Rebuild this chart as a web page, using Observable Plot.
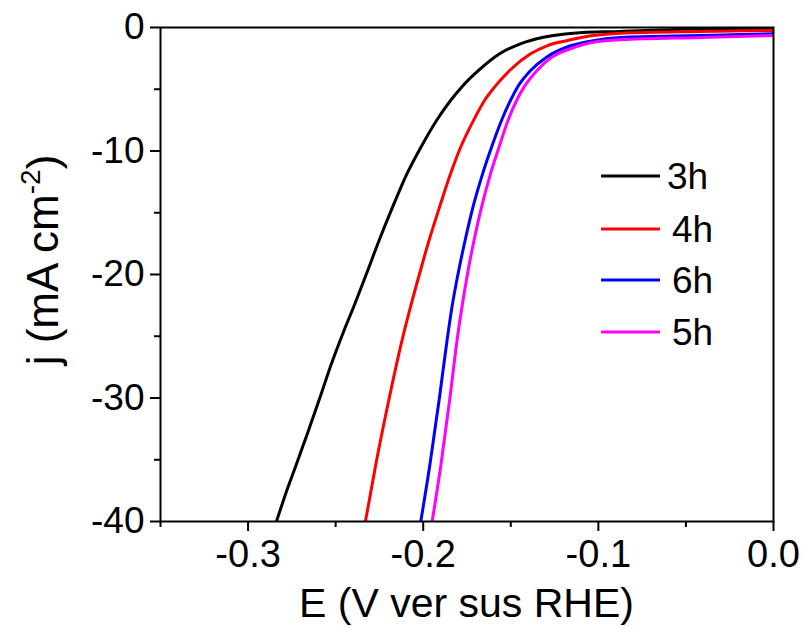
<!DOCTYPE html>
<html><head><meta charset="utf-8">
<script src="https://cdn.jsdelivr.net/npm/d3@7"></script>
<script src="https://cdn.jsdelivr.net/npm/@observablehq/plot@0.6"></script>
<style>
body{margin:0;background:#fff;}
#wrap{position:relative;width:806px;height:628px;font-family:"Liberation Sans",Arial,sans-serif;}
#legend{position:absolute;left:0;top:0;pointer-events:none;}
</style></head><body><div id="wrap"></div>
<script>
// ---- data ----
const seriesNames = ["3h", "4h", "6h", "5h"];
const seriesColors = ["#000000", "#ff0000", "#0000ff", "#ff00ff"];

const E_3h = [-0.2838, -0.2792, -0.2723, -0.2655, -0.2589, -0.2524, -0.2452, -0.2398, -0.2324, -0.2252, -0.2175, -0.2093, -0.2018, -0.1924, -0.1844, -0.1781, -0.1684, -0.1564, -0.1445, -0.1313, -0.1142, -0.0874, -0.050, 0.000];
const j_3h = [-40.0, -38.03, -35.33, -32.63, -29.94, -27.23, -24.53, -22.65, -19.94, -17.25, -14.55, -11.85, -9.82, -7.53, -5.91, -4.83, -3.48, -2.13, -1.32, -0.79, -0.46, -0.32, -0.15, -0.05];

const E_4h = [-0.2330, -0.2270, -0.2193, -0.2121, -0.2073, -0.2021, -0.1967, -0.1907, -0.1844, -0.1790, -0.1713, -0.1650, -0.1593, -0.1507, -0.1387, -0.1290, -0.1176, -0.1028, -0.0874, -0.0417, 0.000];
const j_4h = [-40.0, -35.33, -29.94, -25.34, -22.65, -19.94, -17.25, -14.55, -11.85, -9.82, -7.53, -5.91, -4.83, -3.48, -2.13, -1.46, -1.05, -0.65, -0.46, -0.32, -0.24];

const E_6h = [-0.2014, -0.1961, -0.1907, -0.1864, -0.1836, -0.1801, -0.1761, -0.1716, -0.1661, -0.1613, -0.1553, -0.1502, -0.1462, -0.1387, -0.1296, -0.1182, -0.1045, -0.0874, -0.0417, 0.000];
const j_6h = [-40.0, -35.33, -29.94, -25.34, -22.65, -19.94, -17.25, -14.55, -11.85, -9.82, -7.53, -5.91, -4.83, -3.48, -2.40, -1.60, -1.11, -0.81, -0.65, -0.51];

const E_5h = [-0.1949, -0.1898, -0.1847, -0.1807, -0.1779, -0.1747, -0.1710, -0.1667, -0.1616, -0.1570, -0.1516, -0.1467, -0.1425, -0.1350, -0.1265, -0.1159, -0.1028, -0.0874, -0.0417, 0.000];
const j_5h = [-40.0, -35.33, -29.94, -25.34, -22.65, -19.94, -17.25, -14.55, -11.85, -9.82, -7.53, -5.91, -4.83, -3.48, -2.40, -1.72, -1.19, -1.00, -0.81, -0.65];

const xMajorTicks = [-0.3, -0.2, -0.1, 0.0];
const xTickLabels = ["-0.3", "-0.2", "-0.1", "0.0"];
const xMinorTicks = [-0.35, -0.25, -0.15, -0.05];
const yMajorTicks = [0, -10, -20, -30, -40];
const yTickLabels = ["0", "-10", "-20", "-30", "-40"];
const yMinorTicks = [-5, -15, -25, -35];
const xTitle = "E (V ver sus RHE)";
const yTitleMain = "j (mA cm";
const yTitleSup = "-2";
const yTitleEnd = ")";

// ---- build table ----
const seriesE = [E_3h, E_4h, E_6h, E_5h];
const seriesJ = [j_3h, j_4h, j_6h, j_5h];
const rows = [];
seriesNames.forEach((name, k) => {
  seriesE[k].forEach((e, i) => rows.push({series: name, E: e, j: seriesJ[k][i]}));
});

const FONT = '"Liberation Sans", Arial, sans-serif';
const plot = Plot.plot({
  width: 806, height: 628,
  marginLeft: 160, marginRight: 33, marginTop: 27, marginBottom: 107,
  style: {fontFamily: FONT, background: "#fff", color: "#000"},
  x: {domain: [-0.35, 0], label: null},
  y: {domain: [-40, 0], label: null},
  color: {domain: seriesNames, range: seriesColors},
  marks: [
    Plot.line(rows, {x: "E", y: "j", z: "series", stroke: "series", strokeWidth: 3, curve: "monotone-x", clip: true}),
    Plot.axisX({ticks: xMajorTicks, tickSize: 10, tickPadding: 9, strokeWidth: 2, fontSize: 38,
      tickFormat: d => xTickLabels[xMajorTicks.findIndex(t => Math.abs(t - d) < 1e-9)], label: null}),
    Plot.axisX({ticks: xMinorTicks, tickSize: 6, strokeWidth: 2, text: null, label: null}),
    Plot.axisY({ticks: yMajorTicks, tickSize: 10, tickPadding: 6, strokeWidth: 2, fontSize: 37,
      tickFormat: d => yTickLabels[yMajorTicks.indexOf(d)], label: null}),
    Plot.axisY({ticks: yMinorTicks, tickSize: 6, strokeWidth: 2, text: null, label: null}),
    Plot.frame({stroke: "#000", strokeWidth: 2})
  ]
});

const wrap = document.getElementById("wrap");
wrap.appendChild(plot);

// axis titles
const xs = plot.scale("x"), ys = plot.scale("y");
const svg = d3.select(plot);
const cx = (xs.range[0] + xs.range[1]) / 2;
const cy = (ys.range[0] + ys.range[1]) / 2;
svg.append("text")
  .attr("x", cx).attr("y", 617)
  .attr("text-anchor", "middle")
  .attr("font-size", 41).attr("font-family", FONT).attr("fill", "#000")
  .text(xTitle);
const yt = svg.append("text")
  .attr("transform", `translate(58,${cy - 14}) rotate(-90)`)
  .attr("text-anchor", "middle")
  .attr("font-size", 44).attr("font-family", FONT).attr("fill", "#000");
yt.append("tspan").text(yTitleMain);
yt.append("tspan").attr("font-size", 28).attr("dy", -18).text(yTitleSup);
yt.append("tspan").attr("dy", 18).text(yTitleEnd);

// legend overlay
const leg = d3.select(wrap).append("svg").attr("id", "legend")
  .attr("width", 806).attr("height", 628);
const legendRowsY = [176, 229, 280, 332];
const legendTextX = [667, 672, 672, 672];
seriesNames.forEach((name, k) => {
  leg.append("line").attr("x1", 601).attr("x2", 660)
    .attr("y1", legendRowsY[k]).attr("y2", legendRowsY[k])
    .attr("stroke", seriesColors[k]).attr("stroke-width", 3);
  leg.append("text").attr("x", legendTextX[k]).attr("y", legendRowsY[k])
    .attr("dy", "0.36em").attr("font-size", 37).attr("font-family", FONT)
    .attr("fill", "#000").text(name);
});
</script></body></html>
